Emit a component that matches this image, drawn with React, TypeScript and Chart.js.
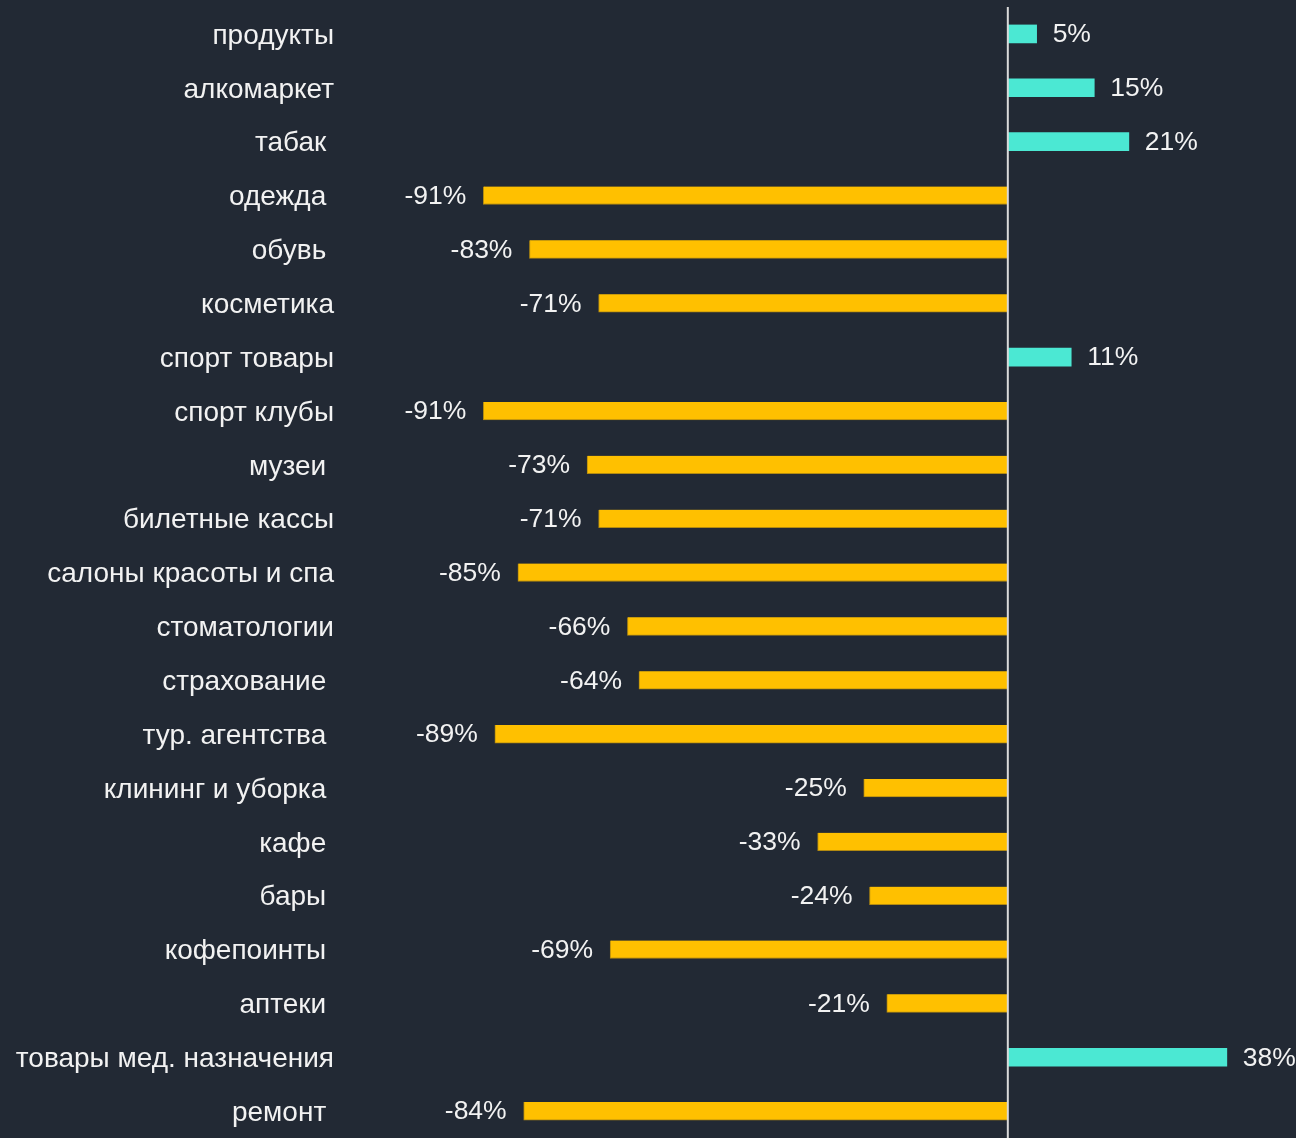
import React, { useEffect, useRef } from "react";
import { Chart, registerables } from "chart.js";

Chart.register(...registerables);

const categories: string[] = [
  "продукты",
  "алкомаркет",
  "табак ",
  "одежда ",
  "обувь ",
  "косметика",
  "спорт товары",
  "спорт клубы",
  "музеи ",
  "билетные кассы",
  "салоны красоты и спа",
  "стоматологии",
  "страхование ",
  "тур. агентства ",
  "клининг и уборка ",
  "кафе ",
  "бары ",
  "кофепоинты ",
  "аптеки ",
  "товары мед. назначения",
  "ремонт ",
];

const values: number[] = [
  5, 15, 21, -91, -83, -71, 11, -91, -73, -71, -85, -66, -64, -89, -25, -33, -24, -69, -21, 38, -84,
];

const BG = "#222934";
const POS = "#4BE8D3";
const NEG = "#FFC000";
const TEXT = "#F2F2F2";
const FONT = "'Liberation Sans', Arial, sans-serif";

export default function App() {
  const ref = useRef<HTMLCanvasElement | null>(null);

  useEffect(() => {
    document.body.style.margin = "0";
    document.body.style.background = BG;
    const canvas = ref.current;
    if (!canvas) return;

    const zeroLine = {
      id: "zeroLine",
      afterDatasetsDraw(chart: any) {
        const { ctx, chartArea, scales } = chart;
        const x = scales.x.getPixelForValue(0);
        ctx.save();
        ctx.strokeStyle = "#D9D9D9";
        ctx.lineWidth = 2;
        ctx.beginPath();
        ctx.moveTo(x, chartArea.top);
        ctx.lineTo(x, chartArea.bottom);
        ctx.stroke();
        ctx.restore();
      },
    };

    const valueLabels = {
      id: "valueLabels",
      afterDatasetsDraw(chart: any) {
        const { ctx } = chart;
        const meta = chart.getDatasetMeta(0);
        ctx.save();
        ctx.font = `26.5px ${FONT}`;
        ctx.fillStyle = TEXT;
        ctx.textBaseline = "middle";
        meta.data.forEach((el: any, i: number) => {
          const v = values[i];
          const txt = `${v}%`;
          if (v >= 0) {
            ctx.textAlign = "left";
            ctx.fillText(txt, el.x + 16, el.y + 1);
          } else {
            ctx.textAlign = "right";
            ctx.fillText(txt, el.x - 17, el.y + 1);
          }
        });
        ctx.restore();
      },
    };

    const chart = new Chart(canvas, {
      type: "bar",
      data: {
        labels: categories,
        datasets: [
          {
            data: values,
            backgroundColor: values.map((v) => (v >= 0 ? POS : NEG)),
            borderColor: values.map((v) => (v >= 0 ? POS : "#B38A10")),
            borderWidth: values.map((v) =>
              v >= 0 ? 0 : ({ top: 0, right: 0, bottom: 1, left: 1 } as any)
            ) as any,
            borderSkipped: false,
            barThickness: 18,
          },
        ],
      },
      options: {
        indexAxis: "y",
        animation: false,
        responsive: false,
        maintainAspectRatio: false,
        layout: { padding: { top: 7, right: 0, bottom: 0, left: 0 } },
        plugins: {
          legend: { display: false },
          tooltip: { enabled: false },
        },
        scales: {
          x: {
            min: -115,
            max: 50,
            display: false,
            grid: { display: false },
          },
          y: {
            grid: { display: false, drawTicks: false },
            border: { display: false },
            ticks: {
              color: TEXT,
              font: { family: FONT, size: 28 },
              padding: 11,
              labelOffset: 2,
              autoSkip: false,
            },
            afterFit(scale: any) {
              scale.width = 345;
              scale.paddingTop = 0;
              scale.paddingBottom = 0;
            },
          },
        },
      },
      plugins: [zeroLine, valueLabels],
    });

    return () => chart.destroy();
  }, []);

  return (
    <div style={{ width: 1296, height: 1138, background: BG, position: "relative" }}>
      <canvas ref={ref} width={1296} height={1138} style={{ display: "block" }} />
    </div>
  );
}
